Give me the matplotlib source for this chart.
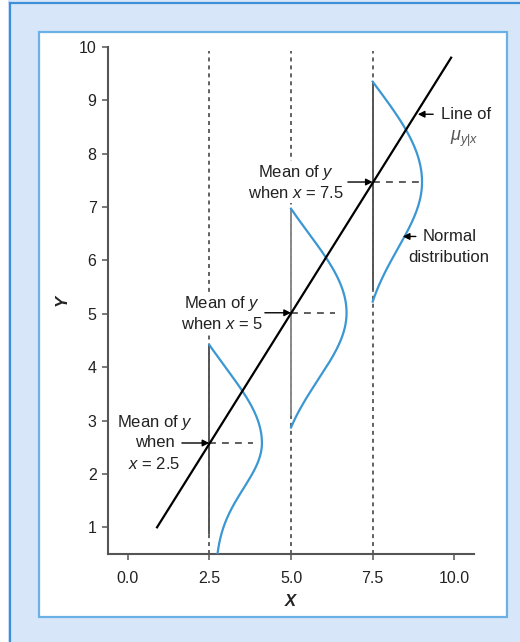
""" Regression line with normal distributions of y at fixed x """

# imports
import numpy as np
import matplotlib
matplotlib.use('Agg')
import matplotlib.pyplot as plt
from matplotlib.patches import Rectangle
from matplotlib.lines import Line2D

# data
x_means = [2.5, 5.0, 7.5]
y_means = [2.58, 5.02, 7.47]
seg_tops = [4.42, 6.97, 9.35]
seg_bottoms = [0.88, 3.08, 5.45]
curve_bottoms = [0.5, 2.87, 5.23]
curve_peaks = [1.61, 1.70, 1.51]
curve_tails = [0.25, 0.0, 0.0]
sigma_up = [1.4, 1.5, 1.8]
sigma_low = [0.85, 1.25, 1.25]
dash_lengths = [1.35, 1.35, 1.45]
line_x = [0.9, 9.9]
line_y = [1.0, 9.8]
guide_top = 9.93
x_ticks = [0.0, 2.5, 5.0, 7.5, 10.0]
x_tick_labels = ['0.0', '2.5', '5.0', '7.5', '10.0']
y_ticks = [1, 2, 3, 4, 5, 6, 7, 8, 9, 10]

# colours
BLUE = '#3b97d3'
BG = '#d7e7f9'
FRAME = '#6cb1e6'
TXT = '#222222'

plt.rcParams['font.family'] = ['Liberation Sans', 'DejaVu Sans']
plt.rcParams['mathtext.fontset'] = 'custom'
plt.rcParams['mathtext.rm'] = 'Liberation Sans'
plt.rcParams['mathtext.it'] = 'Liberation Sans:italic'


# half of a truncated bell, scaled so it runs from `end_off` at the end to `peak` at the mean
def halfBell(y, mu, end, sigma, peak, end_off):
	g = np.exp(-(y - mu) ** 2 / (2 * sigma ** 2))
	g_end = np.exp(-(end - mu) ** 2 / (2 * sigma ** 2))
	return end_off + (peak - end_off) * (g - g_end) / (1 - g_end)


W, H = 520, 642
fig = plt.figure(figsize=(W / 100, H / 100), dpi=100, facecolor=BG)

# outer frame bits
fig.add_artist(Rectangle((0, 0), 8 / W, 1, transform=fig.transFigure, facecolor='white', edgecolor='none', zorder=-3))
fig.add_artist(Line2D([10 / W, 10 / W], [0, 1 - 3 / H], transform=fig.transFigure, color='#3d8fd8', lw=1.6, zorder=-2))
fig.add_artist(Line2D([10 / W, 1], [1 - 3 / H, 1 - 3 / H], transform=fig.transFigure, color='#3d8fd8', lw=1.6, zorder=-2))
# inner white panel
fig.add_artist(Rectangle((39 / W, 1 - 617 / H), (507 - 39) / W, (617 - 32) / H, transform=fig.transFigure,
                         facecolor='white', edgecolor=FRAME, lw=1.6, zorder=-1))

ax = fig.add_axes([107.7 / W, 1 - 554 / H, (474 - 107.7) / W, (554 - 47) / H])
ax.set_facecolor('none')
ax.set_xlim(-0.61, 10.6)
ax.set_ylim(0.5, 10)

# dotted guides
for xm in x_means:
	ax.plot([xm, xm], [0.5, guide_top], color='#555555', lw=1.3, ls=(0, (2.2, 2.2)), zorder=1, clip_on=False)

# vertical segments, normal curves and mean dashes
seg_colors = ['#555555', '#8a8a8a', '#555555']
for i, xm in enumerate(x_means):
	mu = y_means[i]
	ax.plot([xm, xm], [seg_bottoms[i], seg_tops[i]], color=seg_colors[i], lw=1.4, zorder=2, solid_capstyle='butt')
	yu = np.linspace(mu, seg_tops[i], 120)
	yl = np.linspace(curve_bottoms[i], mu, 120)
	xu = xm + halfBell(yu, mu, seg_tops[i], sigma_up[i], curve_peaks[i], 0.0)
	xl = xm + halfBell(yl, mu, curve_bottoms[i], sigma_low[i], curve_peaks[i], curve_tails[i])
	ax.plot(np.concatenate([xl, xu]), np.concatenate([yl, yu]), color=BLUE, lw=1.6, zorder=3)
	ax.plot([xm, xm + dash_lengths[i]], [mu, mu], color='#333333', lw=1.1, ls=(0, (4.5, 4)), zorder=2)

# regression line
ax.plot(line_x, line_y, color='black', lw=1.6, zorder=4)

# axes styling
for s in ['top', 'right']:
	ax.spines[s].set_visible(False)
for s in ['left', 'bottom']:
	ax.spines[s].set_color('#555555')
	ax.spines[s].set_linewidth(1.5)
ax.set_xticks(x_ticks)
ax.set_xticklabels(x_tick_labels)
ax.set_yticks(y_ticks)
ax.tick_params(length=4, width=1.1, color='#555555', labelsize=11.5, labelcolor=TXT, pad=4)
ax.tick_params(axis='x', pad=8)

fig.text(62 / W, 1 - 300 / H, 'Y', rotation=90, ha='center', va='center', fontsize=12,
         fontweight='bold', fontstyle='italic', color=TXT)
fig.text(290 / W, 1 - 602 / H, 'X', ha='center', va='center', fontsize=12,
         fontweight='bold', fontstyle='italic', color=TXT)

arrow = dict(arrowstyle='-|>', lw=1.0, color='black', mutation_scale=10, shrinkA=0, shrinkB=0)
fs = 12
box = dict(facecolor='white', edgecolor='none', pad=1.5)

# mean labels
ax.text(0.82, 2.96, 'Mean of $y$', ha='center', va='center', fontsize=fs, color=TXT, bbox=box, zorder=5)
ax.text(0.82, 2.58, 'when', ha='center', va='center', fontsize=fs, color=TXT, bbox=box, zorder=5)
ax.text(0.82, 2.18, '$x$ = 2.5', ha='center', va='center', fontsize=fs, color=TXT, bbox=box, zorder=5)
ax.annotate('', xy=(x_means[0], y_means[0]), xytext=(1.66, y_means[0]), arrowprops=arrow, zorder=5)

ax.text(2.88, 5.19, 'Mean of $y$', ha='center', va='center', fontsize=fs, color=TXT, bbox=box, zorder=5)
ax.text(2.88, 4.81, 'when $x$ = 5', ha='center', va='center', fontsize=fs, color=TXT, bbox=box, zorder=5)
ax.annotate('', xy=(x_means[1], y_means[1]), xytext=(4.2, y_means[1]), arrowprops=arrow, zorder=5)

ax.text(5.15, 7.65, 'Mean of $y$', ha='center', va='center', fontsize=fs, color=TXT, bbox=box, zorder=5)
ax.text(5.15, 7.27, 'when $x$ = 7.5', ha='center', va='center', fontsize=fs, color=TXT, bbox=box, zorder=5)
ax.annotate('', xy=(x_means[2], y_means[2]), xytext=(6.74, y_means[2]), arrowprops=arrow, zorder=5)

# line of mu
ax.annotate('', xy=(8.88, 8.74), xytext=(9.35, 8.74), arrowprops=arrow, zorder=5)
ax.text(9.59, 8.74, 'Line of', ha='left', va='center', fontsize=fs, color=TXT, clip_on=False)
ax.text(10.29, 8.28, r'$\mu_{y|x}$', ha='center', va='center', fontsize=13, color='#555555', clip_on=False)

# normal distribution
ax.annotate('', xy=(8.42, 6.45), xytext=(8.82, 6.45), arrowprops=arrow, zorder=5)
ax.text(9.03, 6.45, 'Normal', ha='left', va='center', fontsize=fs, color=TXT, clip_on=False)
ax.text(9.83, 6.05, 'distribution', ha='center', va='center', fontsize=fs, color=TXT, clip_on=False)

fig.savefig('out.png', dpi=100, facecolor=fig.get_facecolor())
